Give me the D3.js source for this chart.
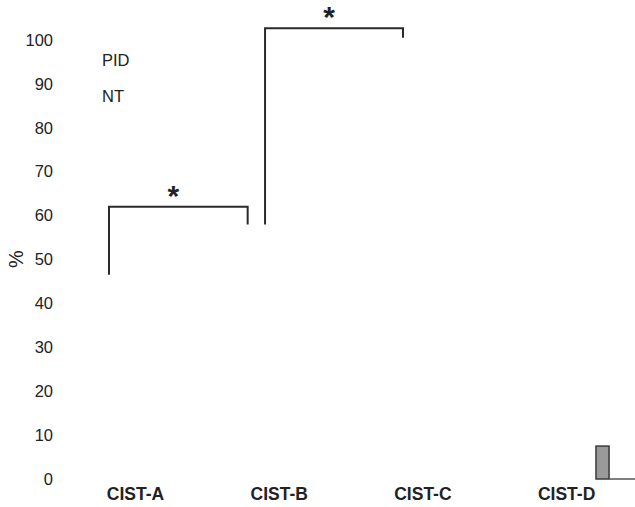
<!DOCTYPE html>
<html>
<head>
<meta charset="utf-8">
<script src="https://cdn.jsdelivr.net/npm/d3@7"></script>
<style>
  body { margin: 0; background: #fff; }
  text { font-family: "Liberation Sans", Arial, sans-serif; }
</style>
</head>
<body>
<svg id="chart" width="635" height="507"></svg>
<script>
// categories on the x axis
const categories = ["CIST-A", "CIST-B", "CIST-C", "CIST-D"];
// y ticks (%)
const yTicks = [0, 10, 20, 30, 40, 50, 60, 70, 80, 90, 100];
// legend labels (swatches are blank in the source)
const legendLabels = ["PID", "NT"];

// significance brackets, x in category units (0 = CIST-A), y in %
const bracketX1 = [-0.181, 0.905];
const bracketX2 = [0.784, 1.865];
const bracketLeft = [46.5, 58];
const bracketRight = [58, 100.5];
const bracketTop = [62, 102.7];
const bracketMark = ["*", "*"];

// the one visible bar (bottom-right corner, category units)
const barX0 = [3.208];
const barX1 = [3.299];
const barVal = [7.5];

const svg = d3.select("#chart");

const x = d3.scaleLinear().domain([0, 1]).range([135, 278.7]);
const y = d3.scaleLinear().domain([0, 100]).range([479, 40]);

// y axis
const yAxis = svg.append("g")
  .attr("transform", "translate(53,0)")
  .call(d3.axisLeft(y).tickValues(yTicks).tickSize(0).tickPadding(0));
yAxis.select(".domain").remove();
yAxis.selectAll("text")
  .attr("font-size", 16.5)
  .attr("font-family", "Liberation Sans, Arial, sans-serif")
  .attr("fill", "#222");

svg.append("text")
  .attr("transform", "translate(23,259) rotate(-90)")
  .attr("text-anchor", "middle")
  .attr("font-size", 20)
  .attr("fill", "#222")
  .text("%");

// x axis
const xAxis = svg.append("g")
  .attr("transform", "translate(0,488)")
  .call(d3.axisBottom(x).tickValues(d3.range(categories.length))
    .tickFormat(i => categories[i]).tickSize(0).tickPadding(0));
xAxis.select(".domain").remove();
xAxis.selectAll("text")
  .attr("font-size", 17.5)
  .attr("font-weight", "bold")
  .attr("font-family", "Liberation Sans, Arial, sans-serif")
  .attr("fill", "#222");

// legend
svg.append("g").selectAll("text")
  .data(legendLabels)
  .join("text")
  .attr("x", 102)
  .attr("y", (d, i) => 60 + i * 36)
  .attr("dy", "0.35em")
  .attr("font-size", 16.5)
  .attr("fill", "#222")
  .text(d => d);

// visible bar
svg.append("g").selectAll("rect")
  .data(barVal)
  .join("rect")
  .attr("x", (d, i) => x(barX0[i]))
  .attr("y", d => y(d))
  .attr("width", (d, i) => x(barX1[i]) - x(barX0[i]))
  .attr("height", d => y(0) - y(d))
  .attr("fill", "#9a9a9a")
  .attr("stroke", "#3a3a3a")
  .attr("stroke-width", 1.5);

svg.append("line")
  .attr("x1", x(barX1[0]))
  .attr("x2", 635)
  .attr("y1", y(0))
  .attr("y2", y(0))
  .attr("stroke", "#555")
  .attr("stroke-width", 1.5);

// brackets
const br = svg.append("g");
bracketTop.forEach((top, i) => {
  const pts = [
    [x(bracketX1[i]), y(bracketLeft[i])],
    [x(bracketX1[i]), y(top)],
    [x(bracketX2[i]), y(top)],
    [x(bracketX2[i]), y(bracketRight[i])]
  ];
  br.append("path")
    .attr("d", d3.line()(pts))
    .attr("fill", "none")
    .attr("stroke", "#2a2a2a")
    .attr("stroke-width", 2);
  br.append("text")
    .attr("x", (x(bracketX1[i]) + x(bracketX2[i])) / 2 - 5)
    .attr("y", y(top) - 1)
    .attr("text-anchor", "middle")
    .attr("font-size", 30)
    .attr("font-weight", "bold")
    .attr("fill", "#222")
    .text(bracketMark[i]);
});
</script>
</body>
</html>
